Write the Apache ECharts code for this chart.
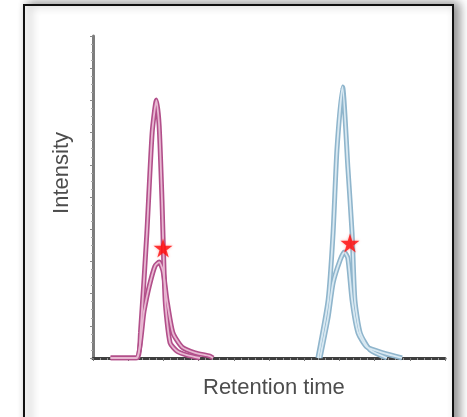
<!DOCTYPE html>
<html>
<head>
<meta charset="utf-8">
<script src="https://cdn.jsdelivr.net/npm/echarts@6/dist/echarts.min.js"></script>
<style>
  html, body { margin: 0; padding: 0; background: #ffffff; }
  #chart { width: 467px; height: 417px; }
</style>
</head>
<body>
<div id="chart"></div>
<script>
// Chromatogram: two analytes, each with a tall and a short elution peak
const xAxisTitle = 'Retention time';
const yAxisTitle = 'Intensity';

// [retention time, intensity]
const peakA_tall = [[5, 0], [12.5, 0], [13.5, 8], [15.3, 38.8], [16.8, 69.9], [18, 80.1], [18.8, 72], [19.6, 49], [20.5, 18], [21.9, 4.7], [24, 2], [26.7, 0.9], [30.4, 0]];
const peakA_short = [[5, 0], [12.2, 0], [14.5, 14.6], [16, 22.4], [17.6, 28.5], [18.8, 29.8], [19.9, 27], [21, 18], [22.7, 7.8], [25.3, 3.4], [29, 1.6], [33.2, 0.6], [34.1, 0]];
const peakB_tall = [[63.9, 0], [66.8, 18], [68.2, 38.8], [69.3, 64.6], [70.9, 84.2], [72.4, 59.3], [73.6, 38.8], [74.4, 18], [75.9, 7.8], [78.7, 2.5], [83.5, 0]];
const peakB_short = [[64.5, 0], [66.8, 12.7], [68.2, 23.3], [70.2, 30.4], [71.4, 32.9], [72.4, 31], [73.6, 18], [75.3, 7.8], [77.8, 3.4], [82.4, 1.6], [87.8, 0]];

// star markers on the short peaks
const markerPoints = [[19.9, 34.2], [73.0, 35.7]];

const magenta = { outer: '#b24f8a', inner: '#e8b8d2' };
const blue = { outer: '#8fb5cc', inner: '#d9e9f2' };

const STAR = 'path://M50,0 L61,35 L98,35 L68,57 L79,91 L50,70 L21,91 L32,57 L2,35 L39,35 Z';

// each trace is drawn as a darker stroke with a pale core
function tube(data, col) {
  return [
    { type: 'line', data: data, symbol: 'none', smooth: 0.2, z: 3,
      lineStyle: { color: col.outer, width: 5 } },
    { type: 'line', data: data, symbol: 'none', smooth: 0.2, z: 4,
      lineStyle: { color: col.inner, width: 1.8 } }
  ];
}

const chart = echarts.init(document.getElementById('chart'), null, { renderer: 'canvas' });
chart.setOption({
  animation: false,
  backgroundColor: '#ffffff',
  grid: { left: 93, right: 22, top: 36, bottom: 59 },
  xAxis: {
    type: 'value', min: 0, max: 100, interval: 10,
    axisLine: { lineStyle: { color: '#3f3f3f', width: 3 } },
    axisTick: { show: true, length: 3, lineStyle: { color: '#777' } },
    minorTick: { show: true, splitNumber: 5, length: 2, lineStyle: { color: '#999' } },
    axisLabel: { show: false },
    splitLine: { show: false }
  },
  yAxis: {
    type: 'value', min: 0, max: 100, interval: 10,
    axisLine: { show: true, lineStyle: { color: '#7d7d7d', width: 3 } },
    axisTick: { show: true, length: 3, lineStyle: { color: '#888' } },
    minorTick: { show: true, splitNumber: 4, length: 2, lineStyle: { color: '#aaa' } },
    axisLabel: { show: false },
    splitLine: { show: false }
  },
  graphic: [
    { type: 'rect', z: -10, silent: true,
      shape: { x: 24, y: 5, width: 429, height: 430 },
      style: { fill: '#ffffff', stroke: '#111111', lineWidth: 2,
               shadowBlur: 10, shadowColor: 'rgba(0,0,0,0.45)', shadowOffsetX: 5, shadowOffsetY: -1 } },
    { type: 'text', z: 10, left: 51, top: 132,
      style: { text: yAxisTitle, fill: '#4d4d4d', font: '22px "Liberation Sans", Arial, sans-serif' },
      rotation: Math.PI / 2, originX: 0, originY: 0 },
    { type: 'text', z: 10, left: 203, top: 377,
      style: { text: xAxisTitle, fill: '#4d4d4d', font: '22px "Liberation Sans", Arial, sans-serif' } }
  ],
  series: [
    ...tube(peakA_short, magenta),
    ...tube(peakA_tall, magenta),
    ...tube(peakB_short, blue),
    ...tube(peakB_tall, blue),
    { type: 'scatter', data: markerPoints, symbol: STAR, symbolSize: 19, z: 6,
      itemStyle: { color: '#ff0a0a', shadowBlur: 3, shadowColor: 'rgba(255,80,80,0.6)' } }
  ]
});
</script>
</body>
</html>
